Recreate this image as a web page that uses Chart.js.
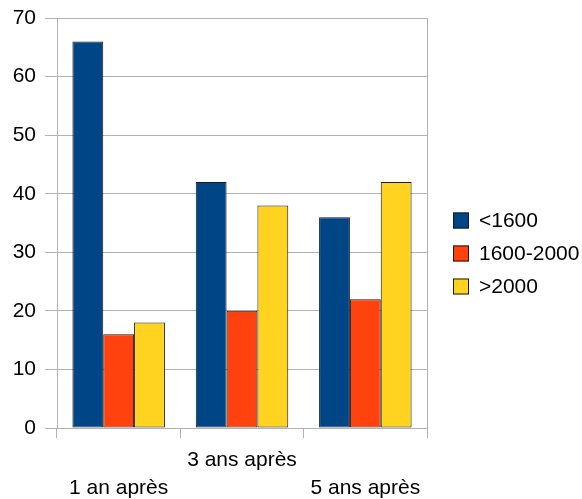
<!DOCTYPE html>
<html>
<head>
<meta charset="utf-8">
<script src="https://cdn.jsdelivr.net/npm/chart.js@4/dist/chart.umd.min.js"></script>
<style>
  html, body { margin: 0; padding: 0; background: #fff; }
  #wrap { width: 582px; height: 499px; }
</style>
</head>
<body>
<div id="wrap"><canvas id="c" width="582" height="499"></canvas></div>
<script>
// Category labels (staggered on two lines)
const categories = [['', '1 an après'], ['3 ans après', ''], ['', '5 ans après']];
const seriesNames = ['<1600', '1600-2000', '>2000'];
const seriesLow = [66, 42, 36];
const seriesMid = [16, 20, 22];
const seriesHigh = [18, 38, 42];
const yTicks = [0, 10, 20, 30, 40, 50, 60, 70];

const colors = ['#004586', '#ff420e', '#ffd320'];
const gridColor = '#b3b3b3';
const fontFamily = '"Liberation Sans", Arial, sans-serif';
const font = { family: fontFamily, size: 21 };

// Legend drawn beside the plot: square swatch + series name, one per row
const sideLegend = {
  id: 'sideLegend',
  afterDraw(chart) {
    const c = chart.ctx;
    const sets = chart.data.datasets;
    const rowH = 33;
    const box = 16;
    const x = chart.chartArea.right + 26;
    const midY = chart.height / 2 + 4;
    const firstY = midY - (sets.length - 1) * rowH / 2;
    c.save();
    c.font = font.size + 'px ' + fontFamily;
    c.textBaseline = 'middle';
    c.textAlign = 'left';
    sets.forEach((ds, i) => {
      const cy = firstY + i * rowH;
      c.fillStyle = ds.backgroundColor;
      c.fillRect(x, cy - box / 2, box, box);
      c.strokeStyle = '#1a1a1a';
      c.lineWidth = 1;
      c.strokeRect(x + 0.5, cy - box / 2 + 0.5, box - 1, box - 1);
      c.fillStyle = '#000';
      c.fillText(ds.label, x + box + 10, cy + 1);
    });
    c.restore();
  }
};

const ctx = document.getElementById('c').getContext('2d');
new Chart(ctx, {
  type: 'bar',
  data: {
    labels: categories,
    datasets: [seriesLow, seriesMid, seriesHigh].map((d, i) => ({
      label: seriesNames[i],
      data: d,
      backgroundColor: colors[i],
      borderColor: '#1a1a1a',
      borderWidth: 1,
      borderSkipped: false,
      categoryPercentage: 0.75,
      barPercentage: 1.0
    }))
  },
  options: {
    responsive: false,
    animation: false,
    devicePixelRatio: 1,
    layout: { padding: { top: 18, left: 0, right: 155, bottom: 0 } },
    plugins: {
      legend: { display: false },
      tooltip: { enabled: false }
    },
    scales: {
      x: {
        afterFit: (scale) => { scale.height = 71; },
        grid: {
          color: gridColor,
          drawOnChartArea: false,
          tickLength: 10,
          offset: true
        },
        border: { color: gridColor },
        ticks: {
          font: Object.assign({}, font, { lineHeight: 1.3 }),
          color: '#000',
          padding: 9,
          maxRotation: 0,
          autoSkip: false
        }
      },
      y: {
        min: 0,
        max: 70,
        afterBuildTicks: (scale) => { scale.ticks = yTicks.map(v => ({ value: v })); },
        afterFit: (scale) => {
          scale.width = 57;
          scale.paddingTop = 0;
          scale.paddingBottom = 0;
        },
        grid: { color: gridColor, tickLength: 12 },
        border: { color: gridColor },
        ticks: { font: font, color: '#000', padding: 9 }
      },
      yRight: {
        position: 'right',
        min: 0,
        max: 70,
        afterFit: (scale) => { scale.width = 0; },
        grid: { drawOnChartArea: false, drawTicks: false },
        border: { color: gridColor },
        ticks: { display: false }
      }
    }
  },
  plugins: [sideLegend]
});
</script>
</body>
</html>
